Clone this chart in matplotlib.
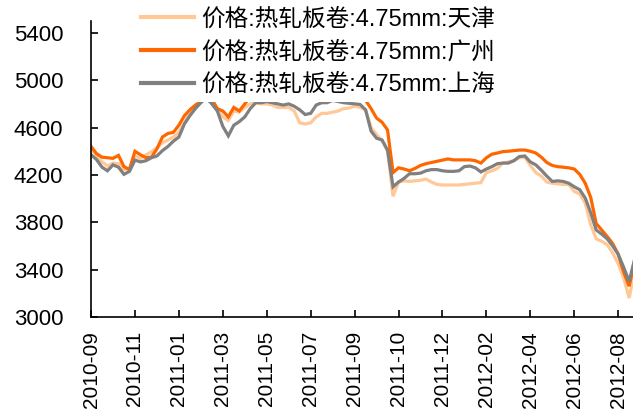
import matplotlib
matplotlib.use("Agg")
import matplotlib.pyplot as plt

# trading-day index (every 8 points = one tick label)
tick_labels = ['2010-09', '2010-11', '2011-01', '2011-03', '2011-05', '2011-07',
               '2011-09', '2011-10', '2011-12', '2012-02', '2012-04', '2012-06',
               '2012-08']

tianjin = [4420, 4360, 4310, 4275, 4300, 4295, 4245, 4255, 4360, 4340,
           4370, 4395, 4430, 4470, 4495, 4520, 4560, 4640, 4720, 4780,
           4815, 4860, 4810, 4750, 4690, 4660, 4740, 4730, 4770, 4800,
           4810, 4800, 4800, 4790, 4770, 4770, 4770, 4740, 4640, 4630,
           4640, 4690, 4720, 4720, 4730, 4740, 4760, 4765, 4780, 4770,
           4750, 4600, 4540, 4490, 4400, 4020, 4140, 4150, 4145, 4150,
           4155, 4165, 4140, 4120, 4115, 4115, 4115, 4115, 4120, 4125,
           4130, 4135, 4220, 4235, 4255, 4300, 4310, 4320, 4345, 4350,
           4280, 4220, 4190, 4140, 4130, 4125, 4120, 4120, 4060, 4040,
           3960, 3780, 3660, 3640, 3610, 3540, 3450, 3330, 3160, 3390]

guangzhou = [4440, 4380, 4350, 4345, 4340, 4365, 4270, 4245, 4400, 4370,
             4345, 4350, 4420, 4520, 4550, 4560, 4620, 4700, 4750, 4790,
             4820, 4870, 4840, 4760, 4740, 4690, 4770, 4740, 4800, 4860,
             4890, 4900, 4900, 4890, 4880, 4890, 4900, 4890, 4880, 4870,
             4880, 4890, 4900, 4900, 4900, 4890, 4890, 4890, 4890, 4880,
             4830, 4760, 4680, 4645, 4580, 4220, 4260, 4250, 4235, 4255,
             4280, 4295, 4305, 4315, 4325, 4335, 4327, 4327, 4327, 4327,
             4320, 4300, 4345, 4375, 4385, 4397, 4400, 4405, 4410, 4410,
             4400, 4385, 4350, 4305, 4280, 4270, 4265, 4260, 4250, 4205,
             4130, 4010, 3790, 3735, 3680, 3620, 3530, 3380, 3260, 3470]

shanghai = [4370, 4330, 4265, 4235, 4285, 4265, 4205, 4230, 4325, 4310,
            4320, 4345, 4360, 4405, 4440, 4485, 4520, 4630, 4700, 4760,
            4810, 4850, 4800, 4740, 4610, 4530, 4620, 4650, 4690, 4760,
            4810, 4810, 4820, 4810, 4800, 4790, 4800, 4780, 4750, 4710,
            4720, 4790, 4810, 4810, 4830, 4820, 4810, 4805, 4800, 4795,
            4750, 4570, 4510, 4495, 4410, 4100, 4140, 4170, 4210, 4210,
            4215, 4235, 4245, 4245, 4235, 4230, 4230, 4235, 4270, 4275,
            4260, 4225, 4250, 4270, 4295, 4300, 4300, 4320, 4355, 4360,
            4310, 4285, 4240, 4190, 4145, 4150, 4145, 4130, 4100, 4075,
            4005, 3880, 3735, 3700, 3660, 3600, 3530, 3420, 3300, 3490]

names = ['价格:热轧板卷:4.75mm:天津', '价格:热轧板卷:4.75mm:广州', '价格:热轧板卷:4.75mm:上海']
colors = ['#FFC896', '#FF6600', '#808080']

plt.rcParams['font.family'] = ['Liberation Sans', 'Noto Sans CJK SC', 'DejaVu Sans']

fig = plt.figure(figsize=(6.33, 4.11), dpi=100)
ax = fig.add_axes([0.1438, 0.2287, 0.8562, 0.7202])

x = list(range(len(shanghai)))
for ys, name, c in zip([tianjin, guangzhou, shanghai], names, colors):
    ax.plot(x, ys, color=c, lw=2.3, label=name, solid_joinstyle='miter')

ax.set_ylim(3000, 5500)
ax.set_yticks(range(3000, 5401, 400))
ax.set_xlim(0, 98.7)
ax.set_xticks(range(0, 8 * len(tick_labels), 8))
ax.set_xticklabels(tick_labels, rotation=90)

for s in ['top', 'right']:
    ax.spines[s].set_visible(False)
for s in ['left', 'bottom']:
    ax.spines[s].set_linewidth(1.2)
ax.tick_params(axis='y', direction='in', length=5, width=1.2, pad=20, labelsize=16)
ax.tick_params(axis='x', direction='in', length=5, width=1.2, pad=10, labelsize=15)

leg = ax.legend(loc='upper left', bbox_to_anchor=(0.082, 1.063), frameon=True,
                fontsize=17, handlelength=2.25, handletextpad=0.3,
                labelspacing=0.43, borderpad=0.25, borderaxespad=0)
leg.get_frame().set_facecolor('white')
leg.get_frame().set_edgecolor('none')
leg.get_frame().set_alpha(1)
for line in leg.get_lines():
    line.set_linewidth(3)

fig.savefig('out.png', dpi=100)
